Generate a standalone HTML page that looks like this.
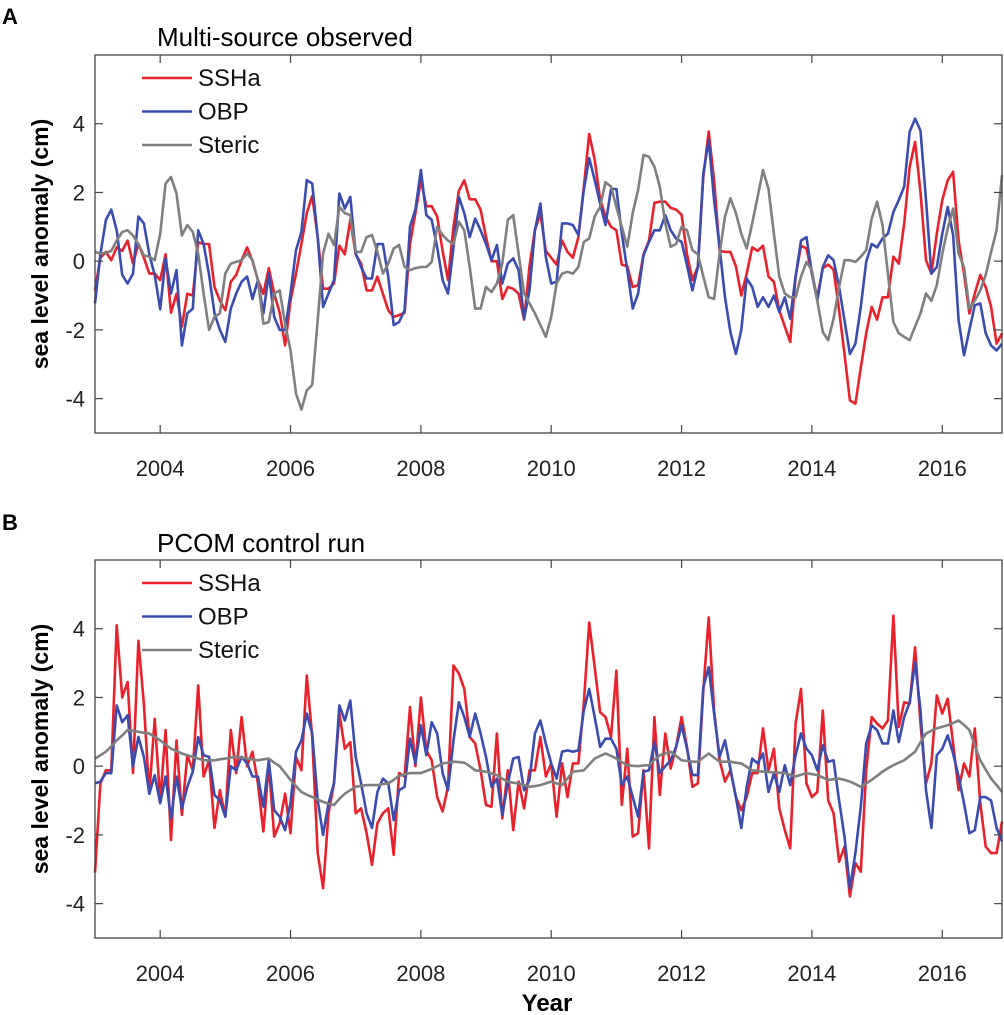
<!DOCTYPE html>
<html><head><meta charset="utf-8"><style>
body{margin:0;background:#fff;}
svg{display:block;font-family:"Liberation Sans",Arial,sans-serif;}
</style></head><body>
<svg id="fig" width="1004" height="1015" viewBox="0 0 1004 1015" xmlns="http://www.w3.org/2000/svg">
<text x="2" y="24" font-size="22" font-weight="bold">A</text>
<text x="157" y="46" font-size="26">Multi-source observed</text>
<text x="2" y="530" font-size="22" font-weight="bold">B</text>
<text x="157" y="552" font-size="26">PCOM control run</text>
<text x="547" y="1011" font-size="24" font-weight="bold" text-anchor="middle">Year</text>
<g id="pa"></g>
<g id="pb"></g>
</svg>
<script>
const years=[2004,2006,2008,2010,2012,2014,2016];
const yTicks=[-4,-2,0,2,4];
const seriesNames=["SSHa","OBP","Steric"];
const aSSHa=[-0.85,0.1,0.27,0.03,0.4,0.3,0.6,-0.07,0.5,0.1,-0.36,-0.36,
-0.55,0.2,-1.5,-0.95,-1.9,-0.95,-1.0,0.55,0.5,0.5,-0.75,-1.15,
-1.43,-0.6,-0.4,0.03,0.4,0.0,-0.55,-0.95,-0.2,-0.95,-1.5,-2.45,
-1.15,-0.36,0.5,1.4,1.9,0.7,-0.8,-0.8,-0.65,0.45,0.2,1.2,
0.2,-0.07,-0.85,-0.85,-0.45,-0.95,-1.43,-1.62,-1.57,-1.5,0.5,1.4,
2.35,1.6,1.6,1.3,0.3,-0.55,1.0,2.05,2.35,1.8,1.8,1.5,
0.7,0.0,0.0,-1.1,-0.75,-0.8,-0.95,-1.7,-0.15,0.9,1.4,0.3,
0.1,-0.1,0.6,0.27,0.1,0.7,2.15,3.7,2.95,1.8,1.3,1.0,
0.9,-0.1,-0.15,-0.75,-0.7,0.2,0.6,1.7,1.73,1.73,1.55,1.5,
1.35,0.2,-0.55,-0.15,2.45,3.77,2.35,0.3,0.27,0.27,-0.15,-1.0,
-0.36,0.4,0.3,0.45,-0.45,-0.6,-1.43,-1.9,-2.35,-0.45,0.45,0.37,
-0.36,-1.05,-0.2,-0.1,-0.25,-1.43,-2.7,-4.05,-4.15,-3.1,-2.1,-1.33,
-1.7,-1.05,-1.05,0.13,-0.07,1.1,2.75,3.47,2.0,0.03,-0.36,0.8,
1.78,2.35,2.6,0.6,-0.36,-1.52,-0.94,-0.4,-0.75,-1.33,-2.4,-2.1];
const aOBP=[-1.23,0.2,1.2,1.5,0.9,-0.4,-0.65,-0.36,1.3,1.1,0.2,-0.4,
-1.4,0.08,-0.94,-0.26,-2.45,-1.52,-1.38,0.9,0.5,-0.4,-1.52,-2.0,
-2.35,-1.38,-0.94,-0.6,-0.45,-1.1,-0.55,-1.52,-0.36,-1.62,-2.0,-2.0,
-0.94,0.32,0.85,2.36,2.26,0.7,-1.33,-0.94,-0.55,1.97,1.53,1.87,
0.22,-0.17,-0.5,-0.5,0.5,0.5,-0.46,-1.86,-1.77,-1.43,1.0,1.5,
2.65,1.34,1.2,0.4,-0.55,-0.94,0.4,1.87,1.4,0.7,1.24,0.9,
0.5,0.03,0.47,-0.65,-0.07,0.08,-0.26,-1.67,-0.85,0.9,1.68,0.13,
-0.65,-0.6,1.1,1.1,1.05,0.76,2.07,3.0,2.36,1.68,1.05,2.1,
2.1,0.8,-0.26,-1.38,-0.94,0.17,0.56,0.9,0.9,1.34,0.9,0.66,
0.56,-0.12,-0.85,-0.17,2.55,3.52,1.78,0.4,-1.05,-2.06,-2.7,-2.0,
-0.5,-0.75,-1.33,-1.05,-1.33,-1.0,-1.48,-1.05,-1.67,-0.45,0.6,0.7,
-0.36,-1.15,-0.17,0.17,0.03,-0.75,-1.72,-2.7,-2.4,-1.33,-0.02,0.5,
0.4,0.66,0.8,1.43,1.78,2.17,3.77,4.15,3.8,1.78,-0.36,-0.17,
0.8,1.58,0.76,-1.72,-2.74,-2.0,-1.28,-1.23,-2.1,-2.45,-2.6,-2.4];
const aSteric=[0.27,0.22,0.24,0.3,0.6,0.85,0.9,0.75,0.5,0.17,0.13,0.03,
0.8,2.26,2.45,1.97,0.75,1.05,0.85,0.22,-0.94,-2.0,-1.62,-1.52,
-0.36,-0.07,-0.02,0.03,0.22,0.03,-0.55,-1.82,-1.77,-0.94,-0.85,-1.82,
-2.6,-3.85,-4.32,-3.76,-3.6,-1.72,0.22,0.8,0.47,1.58,1.4,1.34,
0.27,0.27,0.7,0.76,0.27,-0.36,-0.07,0.37,0.47,-0.17,-0.26,-0.2,
-0.17,-0.17,-0.02,1.0,0.76,0.6,0.5,1.15,0.9,-0.17,-1.38,-1.38,
-0.75,-0.9,-0.65,-0.07,1.2,1.34,0.22,-0.94,-1.23,-1.52,-1.86,-2.2,
-1.62,-0.65,-0.36,-0.31,-0.36,-0.17,0.56,0.66,1.3,1.58,2.3,2.17,
1.58,1.0,0.42,1.4,2.07,3.09,3.04,2.75,2.17,1.1,0.42,0.5,
1.0,0.9,0.32,0.2,-0.45,-1.05,-1.1,0.22,1.3,1.83,1.4,0.8,
0.37,1.1,1.87,2.65,2.1,0.8,-0.45,-0.94,-1.05,-1.05,-0.45,-0.02,
-0.26,-1.15,-2.06,-2.3,-1.67,-0.75,0.03,0.03,-0.02,0.13,0.32,1.24,
1.73,1.05,-0.36,-1.77,-2.1,-2.2,-2.3,-1.9,-1.52,-0.94,-1.15,-0.7,
0.22,0.95,1.53,0.22,-0.17,-1.38,-1.15,-0.85,-0.4,0.27,0.9,2.5];
const bSSHa=[-3.1,-0.5,-0.12,-0.12,4.1,2.0,2.45,-0.2,3.65,1.8,-0.8,1.38,
-1.0,1.05,-2.15,0.75,-1.42,0.32,-0.12,2.35,-0.3,0.17,-1.8,-0.7,
-1.47,1.05,-0.2,1.43,0.0,0.42,-0.5,-1.9,0.08,-2.05,-1.66,-0.8,
-1.95,0.27,-0.12,2.64,0.85,-2.53,-3.55,-1.37,-0.5,1.53,0.51,0.7,
-1.37,-1.23,-1.95,-2.87,-1.66,-1.37,-1.23,-2.58,-0.2,-0.3,1.72,0.0,
2.0,0.46,0.17,-0.9,-1.32,-0.6,2.93,2.69,2.25,0.85,0.66,-0.12,
-1.13,-1.18,0.95,-1.52,-0.12,-1.86,-0.45,-1.23,-0.12,-0.12,0.85,-0.3,
0.08,-1.47,0.08,-0.9,0.08,0.08,1.82,4.18,2.88,1.57,1.43,0.85,
2.78,-1.13,0.51,-2.05,-1.95,-0.12,-2.39,1.43,-0.84,0.95,-0.07,0.56,
1.43,0.56,-0.6,-0.5,2.2,4.33,1.62,0.17,-0.45,-0.12,-0.9,-1.28,
-0.9,-0.2,-0.2,1.1,-0.12,0.51,-1.23,-1.86,-2.39,1.24,2.25,-0.5,
-0.9,-0.75,1.62,-1.0,-1.37,-2.78,-2.34,-3.79,-2.82,-3.07,-0.12,1.43,
1.24,1.1,1.33,4.38,1.14,1.86,1.82,3.46,1.24,-0.5,0.08,2.06,
1.53,1.96,0.66,-0.7,0.08,-0.3,1.1,-1.08,-2.34,-2.53,-2.53,-1.61];
const bOBP=[-0.5,-0.45,-0.2,-0.2,1.77,1.28,1.48,0.0,0.85,0.27,-0.8,-0.26,
-1.08,-0.3,-1.52,-0.3,-1.23,-0.6,-0.16,0.85,0.32,0.27,-0.84,-1.0,
-1.47,0.0,-0.12,0.27,0.08,-0.3,-0.3,-1.18,0.17,-1.28,-1.47,-1.86,
-1.08,0.42,0.75,1.53,0.95,-1.0,-2.0,-1.08,-0.5,1.77,1.33,1.91,
0.27,-0.5,-1.37,-1.8,-0.75,-0.36,-0.5,-1.57,-0.7,-0.6,0.8,0.08,
1.19,0.32,1.28,0.95,-0.2,-0.7,0.75,1.86,1.43,0.85,1.53,0.95,
0.27,-0.6,-0.36,-1.42,-0.5,0.22,0.27,-0.7,-0.4,0.95,1.33,0.66,
0.08,-0.36,0.42,0.46,0.42,0.46,1.62,2.25,1.43,0.56,0.8,0.8,
0.51,-0.55,-0.3,-0.9,-1.47,-0.16,-0.12,0.7,-0.2,0.0,0.17,0.56,
1.19,0.51,-0.26,-0.26,2.3,2.88,1.53,0.27,0.75,-0.07,-0.9,-1.8,
-0.6,0.22,0.08,0.37,-0.75,-0.2,-0.75,0.03,-0.55,0.32,0.95,0.51,
0.32,-0.12,0.61,0.13,0.17,-1.0,-2.05,-3.55,-2.53,-1.18,0.66,1.19,
1.05,0.66,0.66,1.62,0.7,1.43,1.86,3.03,1.62,-0.7,-1.8,0.32,
0.51,0.9,0.37,-0.3,-1.08,-1.95,-1.86,-0.9,-0.9,-1.0,-1.8,-2.19];
const bSteric=[0.22,0.32,0.42,0.58,0.75,0.9,1.05,1.03,1.0,0.97,0.95,0.85,
0.75,0.63,0.51,0.44,0.37,0.32,0.27,0.22,0.17,0.17,0.17,0.2,
0.22,0.25,0.27,0.25,0.22,0.2,0.17,0.2,0.22,0.1,0.0,-0.2,
-0.4,-0.58,-0.75,-0.83,-0.9,-0.97,-1.04,-1.09,-1.13,-0.95,-0.8,-0.7,
-0.6,-0.57,-0.55,-0.55,-0.55,-0.52,-0.5,-0.4,-0.28,-0.24,-0.2,-0.2,
-0.2,-0.14,-0.08,0.0,0.08,0.1,0.13,0.12,0.1,0.0,-0.12,-0.14,
-0.16,-0.21,-0.26,-0.36,-0.45,-0.48,-0.5,-0.55,-0.6,-0.58,-0.55,-0.5,
-0.45,-0.5,-0.55,-0.36,-0.16,-0.14,-0.12,0.05,0.22,0.3,0.37,0.3,
0.22,0.12,0.03,0.01,0.0,0.02,0.03,0.18,0.32,0.37,0.42,0.3,
0.17,0.15,0.13,0.13,0.25,0.37,0.25,0.13,0.13,0.13,0.1,0.08,
-0.02,-0.12,-0.14,-0.16,-0.17,-0.18,-0.19,-0.2,-0.25,-0.3,-0.25,-0.2,
-0.23,-0.26,-0.33,-0.4,-0.38,-0.36,-0.4,-0.45,-0.52,-0.6,-0.5,-0.4,
-0.28,-0.16,-0.06,0.03,0.1,0.17,0.3,0.42,0.7,0.95,1.03,1.1,
1.15,1.19,1.26,1.33,1.2,1.05,0.6,0.17,-0.1,-0.36,-0.55,-0.75];

const NS="http://www.w3.org/2000/svg";
const X0=95,X1=1002,T0=2003,T1=2016+11/12;
const colors=["#e8212b","#3b4cb0","#7f7f7f"];
function xs(t){return X0+(t-T0)/(T1-T0)*(X1-X0);}
function mk(tag,attrs,parent){const e=document.createElementNS(NS,tag);for(const k in attrs)e.setAttribute(k,attrs[k]);parent.appendChild(e);return e;}
function panel(g,top,bottom,data,key){
  const ys=v=>bottom-(v+5)/11*(bottom-top);
  data.forEach((arr,si)=>{
    const pts=arr.map((v,i)=>xs(T0+i/12).toFixed(1)+","+ys(v).toFixed(1)).join(" ");
    const pl=mk("polyline",{points:pts,fill:"none",stroke:colors[si],"stroke-width":2.6,"stroke-linejoin":"round"},g);
    
    
  });
  const box=mk("rect",{x:X0,y:top,width:X1-X0,height:bottom-top,fill:"none",stroke:"#444","stroke-width":1.3},g);
  
  
  years.forEach(yr=>{
    const x=xs(yr);
    mk("line",{x1:x,x2:x,y1:bottom,y2:bottom-8,stroke:"#444","stroke-width":1.2},g);
    mk("line",{x1:x,x2:x,y1:top,y2:top+8,stroke:"#444","stroke-width":1.2},g);
    const t=mk("text",{x:x,y:bottom+43,"font-size":22,"text-anchor":"middle",fill:"#222"},g);
    t.textContent=yr;
    
    
  });
  yTicks.forEach(v=>{
    const y=ys(v);
    mk("line",{x1:X0,x2:X0+8,y1:y,y2:y,stroke:"#444","stroke-width":1.2},g);
    mk("line",{x1:X1,x2:X1-8,y1:y,y2:y,stroke:"#444","stroke-width":1.2},g);
    const t=mk("text",{x:85,y:y+8,"font-size":22,"text-anchor":"end",fill:"#222"},g);
    t.textContent=v===0?"0":(v<0?"-"+(-v):v);
    
    
  });
  const cy=(top+bottom)/2;
  const yl=mk("text",{x:48,y:cy,"font-size":23,"font-weight":"bold","text-anchor":"middle",transform:"rotate(-90 48 "+cy+")"},g);
  yl.textContent="sea level anomaly (cm)";
  
  
  seriesNames.forEach((n,si)=>{
    const ly=top+23+si*33.5;
    const ln=mk("line",{x1:142,x2:192,y1:ly,y2:ly,stroke:colors[si],"stroke-width":2.6},g);
    
    
    const t=mk("text",{x:198,y:ly+8,"font-size":24,fill:"#111"},g);
    t.textContent=n;
    
    
  });
}
panel(document.getElementById("pa"),55,433,[aSSHa,aOBP,aSteric],"a");
panel(document.getElementById("pb"),560,938,[bSSHa,bOBP,bSteric],"b");
</script>
</body></html>
